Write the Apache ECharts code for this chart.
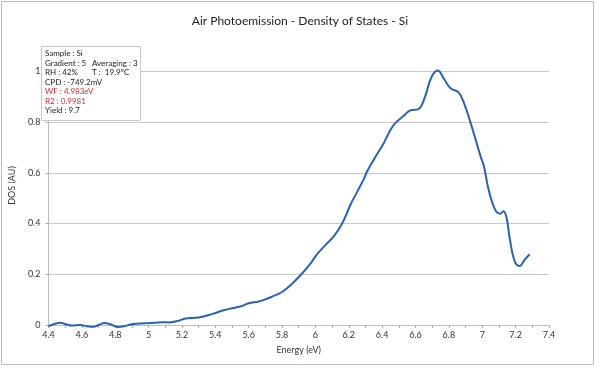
<!DOCTYPE html>
<html><head><meta charset="utf-8">
<script src="https://cdn.jsdelivr.net/npm/echarts@6/dist/echarts.min.js"></script>
<style>html,body{margin:0;padding:0;background:#fff}#c{width:600px;height:372px}</style>
</head><body><div id="c"></div>
<script>
const energy = [4.40,4.44,4.47,4.50,4.54,4.59,4.63,4.67,4.70,4.735,4.77,4.82,4.86,4.90,4.98,5.04,5.08,5.12,5.18,5.22,5.30,5.375,5.45,5.50,5.56,5.60,5.66,5.70,5.74,5.80,5.86,5.92,5.97,6.015,6.06,6.11,6.16,6.21,6.25,6.29,6.31,6.35,6.41,6.45,6.48,6.53,6.57,6.615,6.655,6.694,6.733,6.773,6.812,6.857,6.89,6.94,6.99,7.01,7.038,7.077,7.107,7.127,7.146,7.166,7.195,7.225,7.254,7.284];
const dos = [-0.005,0.005,0.009,0.004,-0.002,0.000,-0.005,-0.007,0.000,0.008,0.003,-0.008,-0.004,0.003,0.007,0.009,0.011,0.010,0.017,0.026,0.030,0.042,0.058,0.066,0.075,0.086,0.093,0.101,0.112,0.130,0.163,0.203,0.242,0.283,0.315,0.349,0.400,0.474,0.525,0.575,0.606,0.652,0.718,0.770,0.797,0.825,0.847,0.850,0.896,0.975,1.003,0.968,0.932,0.918,0.876,0.776,0.665,0.626,0.534,0.455,0.439,0.448,0.422,0.336,0.250,0.233,0.257,0.279];
const infoLines = [
  ["Sample : Si", ""],
  ["Gradient : 5", "Averaging : 3"],
  ["RH : 42%", "T :  19.9ºC"],
  ["CPD : -749.2mV", ""],
  ["WF : 4.983eV", ""],
  ["R2 : 0.9981", ""],
  ["Yield : 9.7", ""]
];
const redLines = [4,5];
const title = "Air Photoemission - Density of States - Si";

const chart = echarts.init(document.getElementById('c'), null, {renderer:'canvas'});
const FONT = 'Lato';
const texts = [];
const lineY = [54,64,73.5,83,92.5,102.3,111.8];
infoLines.forEach((l,i)=>{
  const col = redLines.includes(i) ? '#d9262b' : '#222';
  texts.push({type:'text', z:101, left:45, top:lineY[i]-5, style:{text:l[0], fill:col, font:'8px '+FONT}});
  if (l[1]) texts.push({type:'text', z:101, left:92, top:lineY[i]-5, style:{text:l[1], fill:col, font:'8px '+FONT}});
});
chart.setOption({
  animation:false,
  title:{text:title, left:'center', top:10, textStyle:{fontFamily:FONT, fontSize:12, fontWeight:'normal', color:'#222'}},
  grid:{left:39, right:51, top:46, bottom:47},
  xAxis:{type:'value', min:4.4, max:7.4, interval:0.2,
    name:'Energy (eV)', nameLocation:'middle', nameGap:21,
    nameTextStyle:{fontFamily:FONT, fontSize:9, color:'#333'},
    axisLine:{lineStyle:{color:'#bdbdbd', width:1}},
    axisTick:{show:true, length:3, lineStyle:{color:'#aaa'}},
    minorTick:{show:true, splitNumber:2, length:3, lineStyle:{color:'#aaa'}},
    axisLabel:{fontFamily:FONT, fontSize:9, color:'#333', margin:6, formatter:v=>String(Math.round(v*10)/10)},
    splitLine:{show:false}},
  yAxis:{type:'value', min:0, max:1.1, interval:0.2,
    name:'DOS (AU)', nameLocation:'middle', nameGap:21,
    nameTextStyle:{fontFamily:FONT, fontSize:9, color:'#333'},
    axisLine:{show:true, lineStyle:{color:'#bdbdbd', width:1}},
    axisTick:{show:true, length:3, lineStyle:{color:'#aaa'}},
    axisLabel:{fontFamily:FONT, fontSize:9, color:'#333', margin:8, showMaxLabel:false, formatter:v=>String(Math.round(v*10)/10)},
    splitLine:{show:true, lineStyle:{color:['#c8c8c8','#c8c8c8','#c8c8c8','#c8c8c8','#c8c8c8','#c8c8c8','rgba(0,0,0,0)'], width:1}}},
  series:[{type:'line', data:energy.map((e,i)=>[e,dos[i]]), smooth:0.4, symbol:'none', clip:false,
    lineStyle:{color:'#2d62b3', width:2}}],
  graphic:[
    {type:'rect', z:0, shape:{x:1.5,y:1.5,width:592,height:363}, style:{fill:'none', stroke:'#bdbdbd', lineWidth:1}},
    {type:'rect', z:100, shape:{x:41.5,y:46.5,width:99,height:74}, style:{fill:'#fff', stroke:'#c8c8c8', lineWidth:1}},
    ...texts
  ]
});
</script></body></html>
